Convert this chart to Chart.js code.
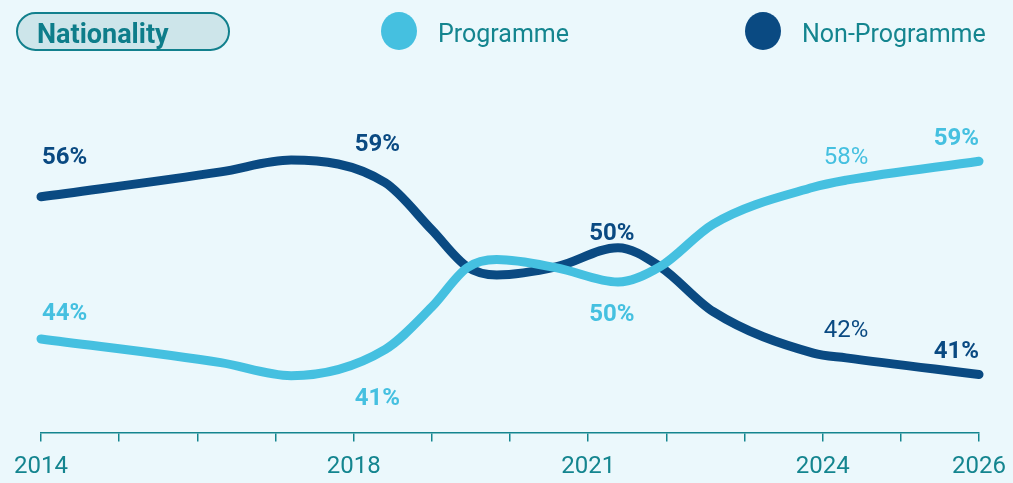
<!DOCTYPE html>
<html lang="en">

<head>
    <meta charset="UTF-8">
    <title>Nationality</title>
    <style>
        html,
        body {
            margin: 0;
            padding: 0;
            background: #ebf8fc;
        }

        #chart-container {
            position: relative;
            width: 1013px;
            height: 483px;
        }
    </style>
</head>

<body>
    <div id="chart-container">
        <canvas id="myChart" width="1013" height="483"></canvas>
    </div>

    <script src="https://cdn.jsdelivr.net/npm/chart.js"></script>
    <script>
        // values
        const years = [2014, 2016.3, 2017.2, 2018.4, 2019.0, 2019.45, 2019.83, 2020.6, 2021.38, 2021.92, 2022.6, 2023.88, 2024.3, 2026];
        const programme = [44.0, 42.0, 40.9, 43.1, 46.7, 50.0, 50.7, 50.0, 48.8, 50.1, 53.7, 56.8, 57.4, 59.0];
        const nonProgramme = [56.0, 58.1, 59.1, 57.2, 53.2, 50.1, 49.4, 50.1, 51.7, 50.1, 46.3, 42.8, 42.4, 41.0];

        const tickYears = [2014, 2018, 2021, 2024, 2026];
        const labelYears = [2014, 2018, 2021, 2024, 2026];
        const programmeLabels = ['44%', '41%', '50%', '58%', '59%'];
        const nonProgrammeLabels = ['56%', '59%', '50%', '42%', '41%'];

        const LIGHT = '#45c0e0';
        const NAVY = '#0a4a82';
        const TEAL = '#14858f';

        const toPoints = vals => years.map((y, i) => ({ x: y, y: vals[i] }));

        // value label placement (pixel nudges from the label's own value)
        const labelStyle = {
            prog: { dy: [-25, 25, 47, -15, -22], bold: [true, true, true, false, true], color: LIGHT },
            non: { dy: [-39, -16, -34, -32, -22], bold: [true, true, true, false, true], color: NAVY }
        };

        const headerPlugin = {
            id: 'header',
            afterDraw(chart) {
                const ctx = chart.ctx;
                ctx.save();
                // pill
                const x = 17, y = 13, w = 212, h = 37, r = h / 2;
                ctx.beginPath();
                ctx.moveTo(x + r, y);
                ctx.lineTo(x + w - r, y);
                ctx.arc(x + w - r, y + r, r, -Math.PI / 2, Math.PI / 2);
                ctx.lineTo(x + r, y + h);
                ctx.arc(x + r, y + r, r, Math.PI / 2, Math.PI * 1.5);
                ctx.closePath();
                ctx.fillStyle = '#cde5ea';
                ctx.fill();
                ctx.lineWidth = 2;
                ctx.strokeStyle = '#12808d';
                ctx.stroke();
                ctx.fillStyle = '#0e7d8a';
                ctx.font = 'bold 27px Roboto';
                ctx.textBaseline = 'alphabetic';
                ctx.textAlign = 'left';
                ctx.fillText('Nationality', 37, 43);

                // legend
                const items = [
                    { cx: 399, color: LIGHT, text: 'Programme', tx: 438 },
                    { cx: 763, color: NAVY, text: 'Non-Programme', tx: 802 }
                ];
                items.forEach(it => {
                    ctx.beginPath();
                    ctx.ellipse(it.cx, 31, 18, 19, 0, 0, Math.PI * 2);
                    ctx.fillStyle = it.color;
                    ctx.fill();
                    ctx.fillStyle = TEAL;
                    ctx.font = '25px Roboto';
                    ctx.fillText(it.text, it.tx, 42);
                });

                // value labels
                const xs = chart.scales.x, ys = chart.scales.y;
                const drawSet = (texts, st) => {
                    texts.forEach((t, i) => {
                        const last = i === texts.length - 1;
                        const px = xs.getPixelForValue(labelYears[i]) + (last ? 0 : 1);
                        const py = ys.getPixelForValue(parseFloat(t)) + st.dy[i];
                        ctx.font = (st.bold[i] ? 'bold ' : '') + '24px Roboto';
                        ctx.fillStyle = st.color;
                        ctx.textAlign = last ? 'right' : 'left';
                        ctx.textBaseline = 'middle';
                        ctx.fillText(t, px, py);
                    });
                };
                drawSet(programmeLabels, labelStyle.prog);
                drawSet(nonProgrammeLabels, labelStyle.non);
                ctx.restore();
            }
        };

        const ctx = document.getElementById('myChart').getContext('2d');
        var chart = new Chart(ctx, {
            type: 'line',
            data: {
                datasets: [{
                    label: 'Programme',
                    data: toPoints(programme),
                    borderColor: LIGHT,
                    borderWidth: 9,
                    borderCapStyle: 'round',
                    borderJoinStyle: 'round',
                    cubicInterpolationMode: 'monotone',
                    pointRadius: 0,
                    fill: false,
                    clip: false
                }, {
                    label: 'Non-Programme',
                    data: toPoints(nonProgramme),
                    borderColor: NAVY,
                    borderWidth: 9,
                    borderCapStyle: 'round',
                    borderJoinStyle: 'round',
                    cubicInterpolationMode: 'monotone',
                    pointRadius: 0,
                    fill: false,
                    clip: false
                }]
            },
            options: {
                responsive: false,
                animation: false,
                events: [],
                layout: {
                    // tick padding is counted twice in the axis height, so pull the bottom back
                    padding: { top: 102, left: 41, right: 0, bottom: -8.5 }
                },
                plugins: {
                    legend: { display: false },
                    tooltip: { enabled: false }
                },
                scales: {
                    x: {
                        type: 'linear',
                        min: 2014,
                        max: 2026,
                        afterBuildTicks: axis => {
                            axis.ticks = [];
                            for (let yr = 2014; yr <= 2026; yr++) axis.ticks.push({ value: yr });
                        },
                        ticks: {
                            autoSkip: false,
                            maxRotation: 0,
                            padding: 7,
                            color: TEAL,
                            font: { family: 'Roboto', size: 24, lineHeight: '36px' },
                            callback: v => tickYears.includes(v) ? String(v) : ''
                        },
                        grid: {
                            drawOnChartArea: false,
                            drawTicks: true,
                            tickLength: 9,
                            color: TEAL,
                            lineWidth: 1.5
                        },
                        border: { display: true, color: TEAL, width: 1.5 }
                    },
                    y: {
                        display: false,
                        min: 36.1,
                        max: 64.0
                    }
                }
            },
            plugins: [headerPlugin]
        });
    </script>
</body>

</html>
